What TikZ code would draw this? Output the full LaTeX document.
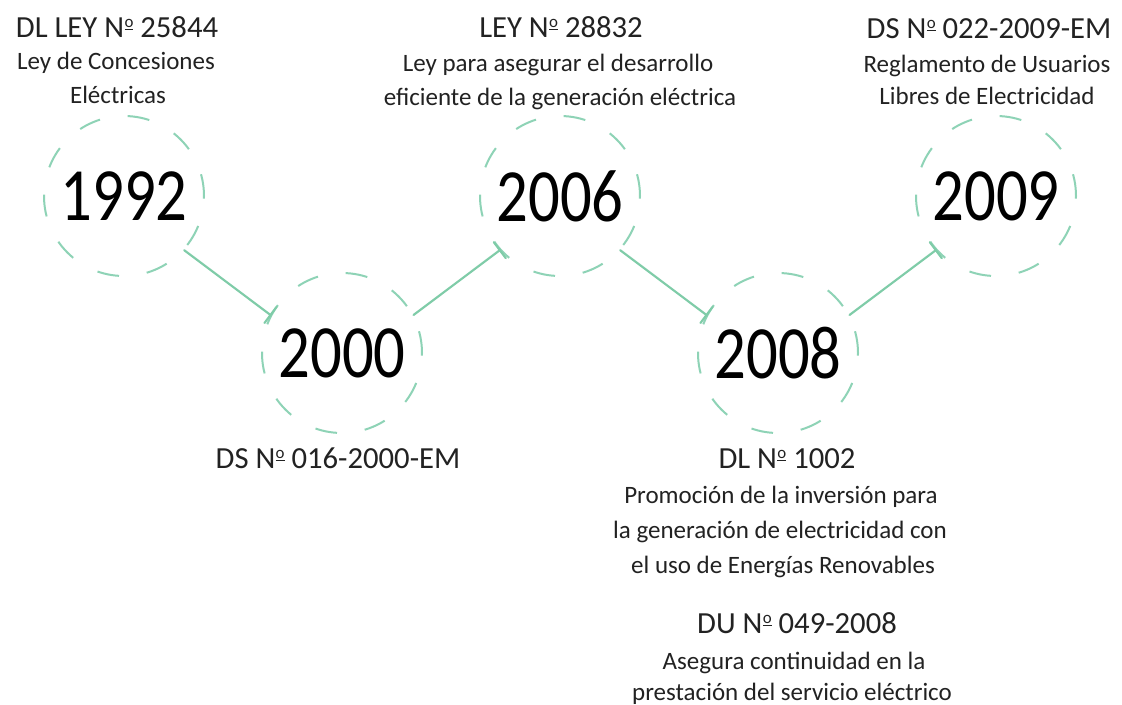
\documentclass[tikz,border=0pt]{standalone}
\usepackage{fontspec}
\setmainfont{Carlito}
\usetikzlibrary{calc}
\definecolor{mint}{HTML}{8ED3B6}
\definecolor{mintline}{HTML}{7FCCA8}
\definecolor{txt}{HTML}{222222}
\newcommand\nro{N\kern0.3pt\raisebox{0.32em}{\fontsize{0.55em}{0.6em}\selectfont\underline{o}}}
\begin{document}
\begin{tikzpicture}[x=0.75pt,y=-0.75pt,
 yearcircle/.style={circle, draw=mint, line width=1.5pt, dash pattern=on 16.5pt off 21pt,
   minimum size=120pt, inner sep=0pt, font=\fontsize{47}{58}\selectfont, text=black},
 link/.style={draw=mintline, line width=1.6pt, line cap=round},
 head/.style={anchor=base, font=\fontsize{23}{27}\selectfont, text=txt, inner sep=0pt},
 desc/.style={anchor=base, font=\fontsize{18.75}{22}\selectfont, text=txt, inner sep=0pt}]
\useasboundingbox (0,0) rectangle (1122,704);
\fill[white] (0,0) rectangle (1122,704);

\node[yearcircle] (y1992) at (124,196) {\scalebox{1}[1.2]{1992}};
\node[yearcircle] (y2000) at (342,353) {\scalebox{1}[1.2]{2000}};
\node[yearcircle] (y2006) at (560,196) {\scalebox{1}[1.2]{2006}};
\node[yearcircle] (y2008) at (778,353) {\scalebox{1}[1.2]{2008}};
\node[yearcircle] (y2009) at (996,196) {\scalebox{1}[1.2]{2009}};

\coordinate (s1) at (y1992.-42); \coordinate (e1) at (y2000.152);
\coordinate (s2) at (y2000.28);  \coordinate (e2) at (y2006.-138);
\coordinate (s3) at (y2006.-42); \coordinate (e3) at (y2008.152);
\coordinate (s4) at (y2008.28);  \coordinate (e4) at (y2009.-138);
\foreach \i in {1,2,3,4}{
  \draw[link] (s\i) -- (e\i);
  \draw[link] ($(e\i)!7.5pt!90:(s\i)$) -- ($(e\i)!7.5pt!-90:(s\i)$);
}

% 1992
\node[head] (h1) at (117,37) {DL LEY \nro{} 25844};
\node[desc] (d1a) at (116,69) {Ley de Concesiones};
\node[desc] (d1b) at (118,103) {Eléctricas};
% 2006
\node[head] (h3) at (561,37) {LEY \nro{} 28832};
\node[desc] (d3a) at (558,71) {Ley para asegurar el desarrollo};
\node[desc] (d3b) at (560,105) {eficiente de la generación eléctrica};
% 2009
\node[head] (h5) at (989,38) {DS \nro{} 022-2009-EM};
\node[desc] (d5a) at (987,72) {Reglamento de Usuarios};
\node[desc] (d5b) at (987,104) {Libres de Electricidad};
% 2000
\node[head] (h2) at (338,468) {DS \nro{} 016-2000-EM};
% 2008
\node[head] (h4) at (787,468) {DL \nro{} 1002};
\node[desc] (d4a) at (781,503) {Promoción de la inversión para};
\node[desc] (d4b) at (780,538) {la generación de electricidad con};
\node[desc] (d4c) at (783,573) {el uso de Energías Renovables};
\node[head] (h6) at (797,633) {DU \nro{} 049-2008};
\node[desc] (d6a) at (794,669) {Asegura continuidad en la};
\node[desc] (d6b) at (792,700) {prestación del servicio eléctrico};
\end{tikzpicture}
\end{document}
